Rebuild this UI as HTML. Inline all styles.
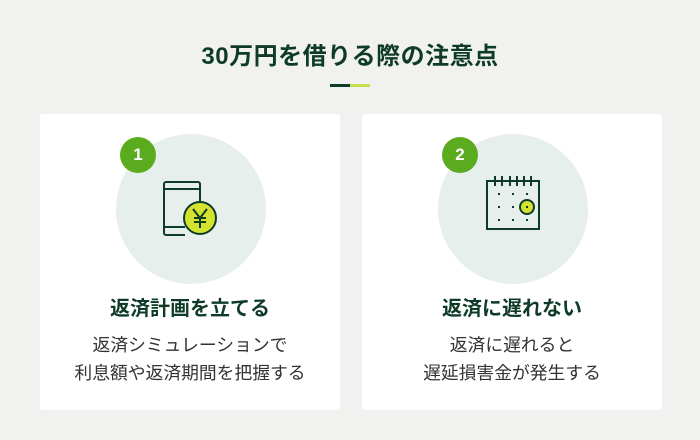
<!DOCTYPE html>
<html><head><meta charset="utf-8"><style>
body{margin:0;width:700px;height:440px;background:#f1f2f0;font-family:"Liberation Sans","Noto Sans CJK JP",sans-serif;position:relative;overflow:hidden}
.t{position:absolute;left:0;width:700px;text-align:center;top:36px;font-size:24px;letter-spacing:0.5px;font-weight:bold;color:#0e3b27}
.bar{position:absolute;top:84px;height:3px;width:20px}
.card{position:absolute;top:114px;width:300px;height:296px;background:#fff;border-radius:3px}
.circ{position:absolute;top:20px;left:76px;width:150px;height:150px;border-radius:50%;background:#e7efec}
.badge{position:absolute;top:23px;left:80px;width:36px;height:36px;border-radius:50%;background:#5aab1e;color:#fff;font-weight:bold;font-size:17px;line-height:36px;text-align:center}
.h{position:absolute;top:178px;left:0;width:300px;text-align:center;font-size:20px;font-weight:bold;color:#0e3b27}
.b{position:absolute;top:217px;left:0;width:300px;text-align:center;font-size:17.8px;line-height:28px;color:#333}
svg{position:absolute;left:0;top:0}
</style></head><body>
<div class="t">30万円を借りる際の注意点</div>
<div class="bar" style="left:330px;background:#0e3b27"></div>
<div class="bar" style="left:350px;background:#c5e04a"></div>
<div class="card" style="left:40px">
<div class="circ"></div><div class="badge">1</div>
<svg width="300" height="296">
<path d="M145 121 H126 a2 2 0 0 1 -2 -2 V70 a2 2 0 0 1 2 -2 H158 a2 2 0 0 1 2 2 V90" fill="none" stroke="#0e3b27" stroke-width="2"/>
<line x1="124" y1="75" x2="160" y2="75" stroke="#0e3b27" stroke-width="2"/>
<line x1="124" y1="113" x2="145" y2="113" stroke="#0e3b27" stroke-width="2"/>
<circle cx="160" cy="104" r="16" fill="#d4e32f" stroke="#0e3b27" stroke-width="2"/>
<path d="M153 95 L160 104 L167 95 M160 104 V114 M154 104 H166 M154 108 H166" fill="none" stroke="#0e3b27" stroke-width="2"/>
</svg>
<div class="h">返済計画を立てる</div>
<div class="b">返済シミュレーションで<br>利息額や返済期間を把握する</div>
</div>
<div class="card" style="left:362px">
<div class="circ"></div><div class="badge">2</div>
<svg width="300" height="296">
<rect x="125" y="67" width="52" height="48" fill="none" stroke="#0e3b27" stroke-width="2"/>
<g stroke="#0e3b27" stroke-width="2"><line x1="133" y1="62" x2="133" y2="72"/><line x1="140" y1="62" x2="140" y2="72"/><line x1="148" y1="62" x2="148" y2="72"/><line x1="155" y1="62" x2="155" y2="72"/><line x1="162" y1="62" x2="162" y2="72"/><line x1="169" y1="62" x2="169" y2="72"/></g>
<g fill="#0e3b27"><rect x="136" y="79" width="2" height="2"/><rect x="150" y="79" width="2" height="2"/><rect x="164" y="79" width="2" height="2"/><rect x="136" y="92" width="2" height="2"/><rect x="150" y="92" width="2" height="2"/><rect x="136" y="105" width="2" height="2"/><rect x="150" y="105" width="2" height="2"/><rect x="164" y="105" width="2" height="2"/></g>
<circle cx="165" cy="93" r="7" fill="#d4e32f" stroke="#0e3b27" stroke-width="2"/>
<rect x="164" y="92" width="2" height="2" fill="#0e3b27"/>
</svg>
<div class="h">返済に遅れない</div>
<div class="b">返済に遅れると<br>遅延損害金が発生する</div>
</div>
</body></html>
